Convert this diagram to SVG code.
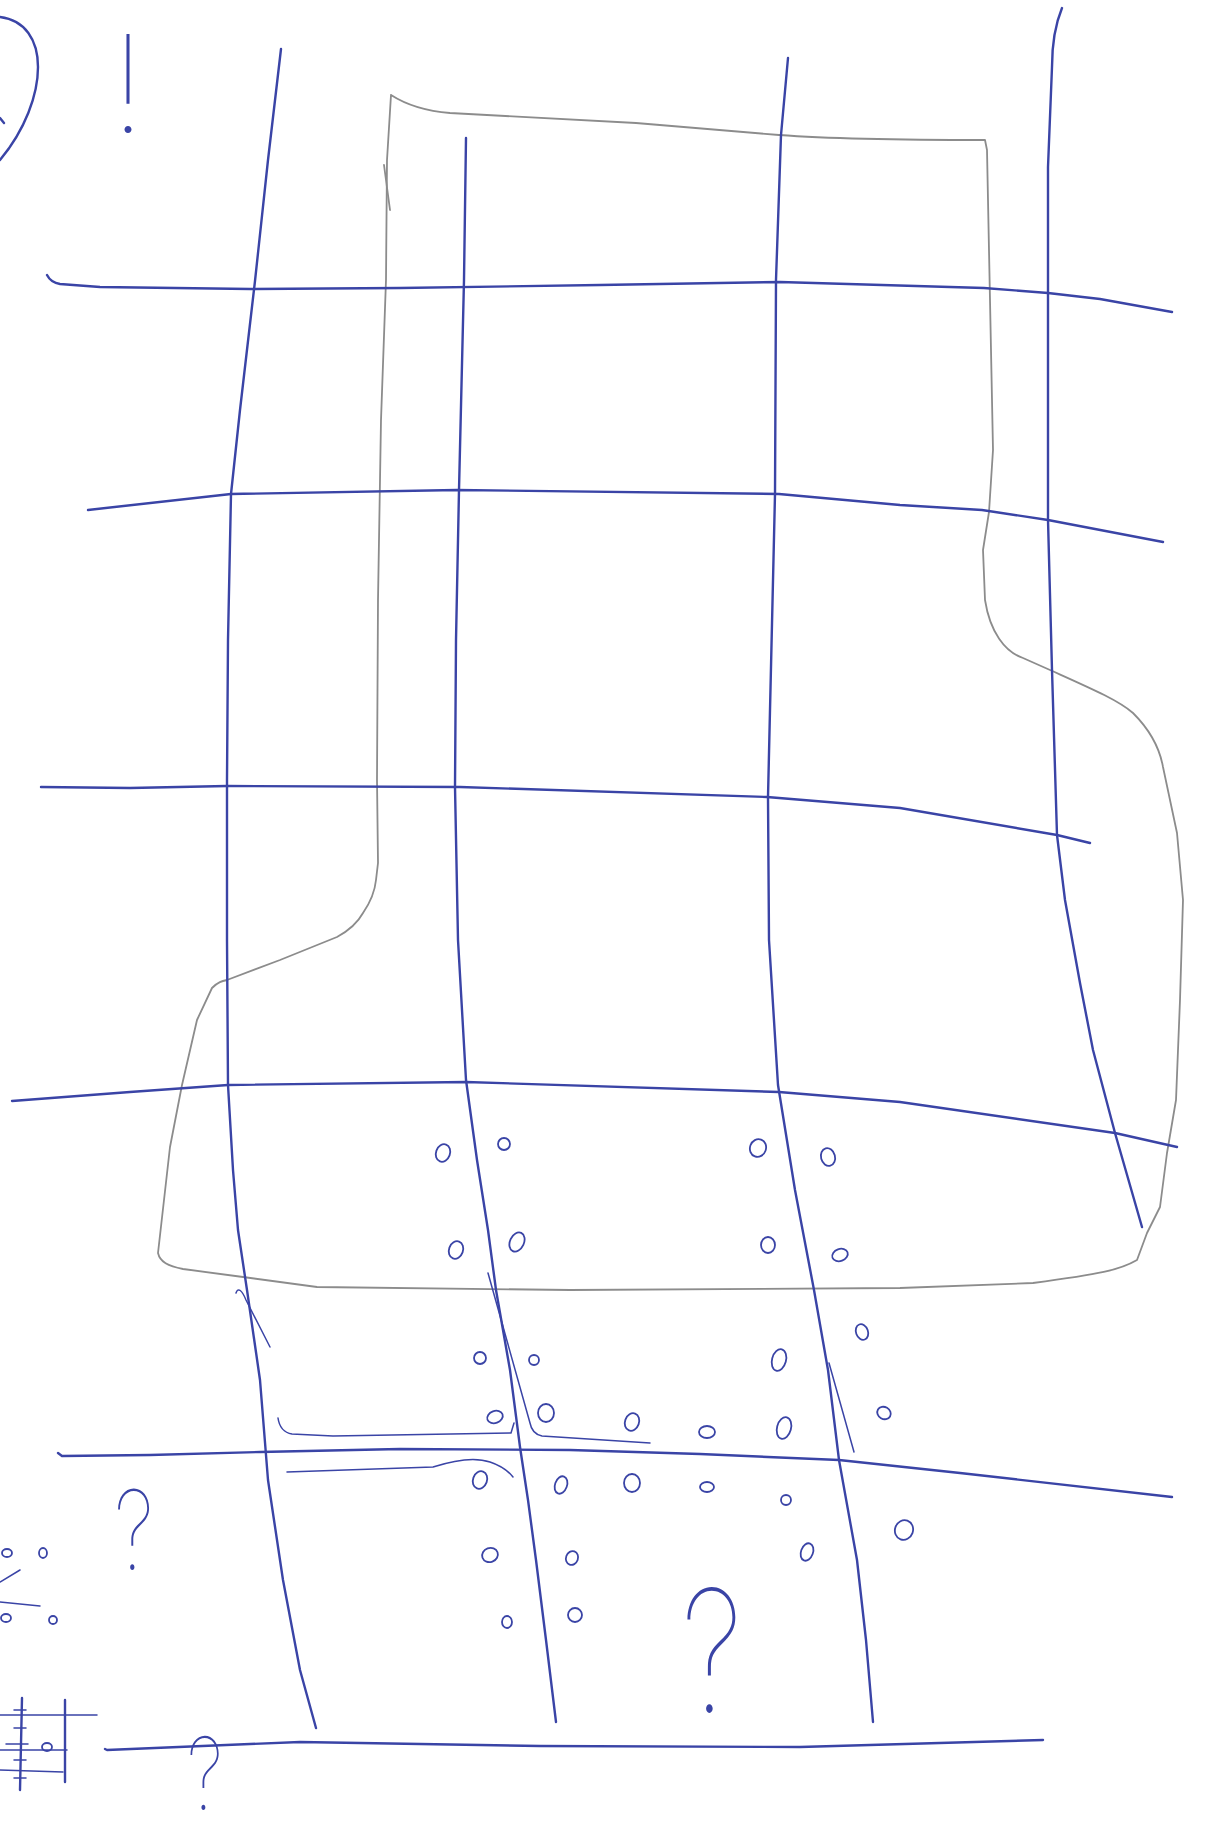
<svg xmlns="http://www.w3.org/2000/svg" width="1208" height="1837" viewBox="0 0 1208 1837">
<style>
.b{fill:none;stroke:#3a44a6;stroke-width:2.4;stroke-linecap:round;stroke-linejoin:round}
.bt{fill:none;stroke:#3a44a6;stroke-width:1.5;stroke-linecap:round;stroke-linejoin:round}
.g{fill:none;stroke:#8c8c8c;stroke-width:1.8;stroke-linecap:round;stroke-linejoin:round}
.d{fill:none;stroke:#3a44a6;stroke-width:1.8}
.m{font-family:Inter,"Liberation Sans",sans-serif;font-weight:100;fill:#3a44a6;text-anchor:middle}
</style>
<rect width="1208" height="1837" fill="#ffffff"/>
<g id="outline">
<path class="g" d="M391,95 C405,104 425,111 450,113 L636,123 L779,135 C820,138 900,140 985,140 L987,150 L990,300 L993,450 L989,512 L983,550 L985,600 C990,632 1005,652 1023,658 L1050,670 C1090,688 1118,700 1133,713 C1150,730 1160,750 1163,767 L1177,833 L1183,900 L1180,1000 L1176,1100 L1167,1153 L1160,1207 L1147,1233 L1137,1260 C1120,1270 1100,1274 1033,1283 L900,1288 L570,1290 L317,1287 L243,1277 L183,1269 C168,1266 160,1262 158,1253 L170,1147 L182,1085 L197,1020 L212,988 C218,982 222,981 227,980 L280,960 L337,937 C350,930 358,922 363,913 C372,900 375,890 376,880 L378,863 L377,780 L378,600 L381,420 L386,280 L387,160 L391,95"/>
<path class="g" d="M384,165 L390,210"/>
</g>
<g id="grid">
<path class="b" d="M281,49 L268,160 L255,281 L240,410 L231,494 L228,640 L227,780 L227,940 L228,1085 L233,1170 L238,1230 L247,1290 L260,1380 L268,1480 L283,1580 L300,1670 L316,1728"/>
<path class="b" d="M466,138 L464,280 L459,490 L456,640 L455,787 L458,940 L466,1080 L477,1160 L488,1230 L496,1290 L510,1370 L520,1447 L528,1500 L536,1560 L546,1640 L556,1722"/>
<path class="b" d="M788,58 L781,135 L776,280 L775,494 L768,797 L769,940 L778,1085 L795,1190 L814,1290 L828,1370 L839,1460 L857,1560 L866,1640 L873,1722"/>
<path class="b" d="M1062,8 C1055,25 1052,45 1052,67 L1048,167 L1048,293 L1048,520 L1052,670 L1057,835 L1065,900 L1080,983 L1093,1050 L1115,1133 L1142,1227"/>
<path class="b" d="M47,275 C50,281 54,283 60,284 L100,287 L250,289 L400,288 L600,285 L780,282 L984,288 L1048,293 L1100,299 L1172,312"/>
<path class="b" d="M88,510 L231,494 L457,490 L779,494 L900,505 L982,510 L1048,520 L1163,542"/>
<path class="b" d="M41,787 L130,788 L227,786 L460,787 L767,797 L900,808 L1057,835 L1090,843"/>
<path class="b" d="M12,1101 L130,1092 L228,1085 L466,1082 L779,1092 L900,1102 L1115,1133 L1177,1147"/>
<path class="b" d="M58,1453 L62,1456 L150,1455 L260,1452 L400,1449 L570,1450 L700,1454 L839,1460 L960,1473 L1172,1497"/>
<path class="b" d="M105,1749 L107,1750 L300,1742 L540,1746 L800,1747 L1043,1740"/>
<path class="bt" d="M236,1293 C238,1287 242,1290 246,1300 L270,1347"/>
<path class="bt" d="M488,1273 L530,1423 Q532,1434 542,1436 L650,1443"/>
<path class="bt" d="M278,1418 Q280,1432 292,1434 L333,1436 L511,1433 L514,1423"/>
<path class="bt" d="M287,1472 L433,1467 Q470,1455 490,1462 Q505,1467 513,1477"/>
<path class="bt" d="M829,1363 L854,1452"/>
</g>
<g id="dots">
<ellipse class="d" cx="443" cy="1153" rx="7" ry="9" transform="rotate(20 443 1153)"/>
<ellipse class="d" cx="504" cy="1144" rx="6" ry="6"/>
<ellipse class="d" cx="758" cy="1148" rx="8" ry="9" transform="rotate(20 758 1148)"/>
<ellipse class="d" cx="828" cy="1157" rx="7" ry="9" transform="rotate(-15 828 1157)"/>
<ellipse class="d" cx="456" cy="1250" rx="7" ry="9" transform="rotate(20 456 1250)"/>
<ellipse class="d" cx="517" cy="1242" rx="7" ry="10" transform="rotate(25 517 1242)"/>
<ellipse class="d" cx="768" cy="1245" rx="7" ry="8"/>
<ellipse class="d" cx="840" cy="1255" rx="8" ry="6" transform="rotate(-20 840 1255)"/>
<ellipse class="d" cx="862" cy="1332" rx="6" ry="8" transform="rotate(-20 862 1332)"/>
<ellipse class="d" cx="480" cy="1358" rx="6" ry="6"/>
<ellipse class="d" cx="534" cy="1360" rx="5" ry="5"/>
<ellipse class="d" cx="779" cy="1360" rx="7" ry="11" transform="rotate(15 779 1360)"/>
<ellipse class="d" cx="495" cy="1417" rx="8" ry="6" transform="rotate(-20 495 1417)"/>
<ellipse class="d" cx="546" cy="1413" rx="8" ry="9"/>
<ellipse class="d" cx="632" cy="1422" rx="7" ry="9" transform="rotate(20 632 1422)"/>
<ellipse class="d" cx="707" cy="1432" rx="8" ry="6"/>
<ellipse class="d" cx="784" cy="1428" rx="7" ry="11" transform="rotate(15 784 1428)"/>
<ellipse class="d" cx="884" cy="1413" rx="7" ry="6" transform="rotate(30 884 1413)"/>
<ellipse class="d" cx="480" cy="1480" rx="7" ry="9" transform="rotate(20 480 1480)"/>
<ellipse class="d" cx="561" cy="1485" rx="6" ry="9" transform="rotate(20 561 1485)"/>
<ellipse class="d" cx="632" cy="1483" rx="8" ry="9"/>
<ellipse class="d" cx="707" cy="1487" rx="7" ry="5"/>
<ellipse class="d" cx="786" cy="1500" rx="5" ry="5"/>
<ellipse class="d" cx="904" cy="1530" rx="9" ry="10" transform="rotate(20 904 1530)"/>
<ellipse class="d" cx="490" cy="1555" rx="8" ry="7" transform="rotate(-20 490 1555)"/>
<ellipse class="d" cx="572" cy="1558" rx="6" ry="7" transform="rotate(20 572 1558)"/>
<ellipse class="d" cx="807" cy="1552" rx="6" ry="9" transform="rotate(20 807 1552)"/>
<ellipse class="d" cx="507" cy="1622" rx="5" ry="6"/>
<ellipse class="d" cx="575" cy="1615" rx="7" ry="7"/>
</g>
<g id="marks">
<path class="b" d="M0,17 C25,20 38,40 38,67 C38,95 25,130 0,160"/>
<path class="b" d="M0,118 L4,123"/>
<text class="m" x="128" y="132" font-size="135">!</text>
<text class="m" transform="translate(712,1712) scale(0.75,1)" font-size="170">?</text>
<text class="m" transform="translate(134,1570) scale(0.75,1)" font-size="110">?</text>
<text class="m" transform="translate(205,1810) scale(0.75,1)" font-size="100">?</text>
</g>
<g id="margin-sketch">
<ellipse class="d" cx="7" cy="1553" rx="5" ry="4"/>
<ellipse class="d" cx="43" cy="1553" rx="4" ry="5"/>
<path class="bt" d="M0,1582 L20,1570"/>
<path class="bt" d="M0,1602 L40,1606"/>
<ellipse class="d" cx="6" cy="1618" rx="5" ry="4"/>
<ellipse class="d" cx="53" cy="1620" rx="4" ry="4"/>
<path class="b" d="M22,1698 L20,1790"/>
<path class="b" d="M65,1700 L65,1782"/>
<path class="bt" d="M0,1715 L97,1715"/>
<path class="bt" d="M0,1750 L67,1750"/>
<path class="bt" d="M0,1770 L63,1772"/>
<path class="bt" d="M14,1710 L26,1710 M14,1728 L26,1728 M6,1744 L28,1744 M14,1760 L26,1760 M14,1778 L26,1778"/>
<ellipse class="d" cx="47" cy="1747" rx="5" ry="4"/>
</g>
</svg>
